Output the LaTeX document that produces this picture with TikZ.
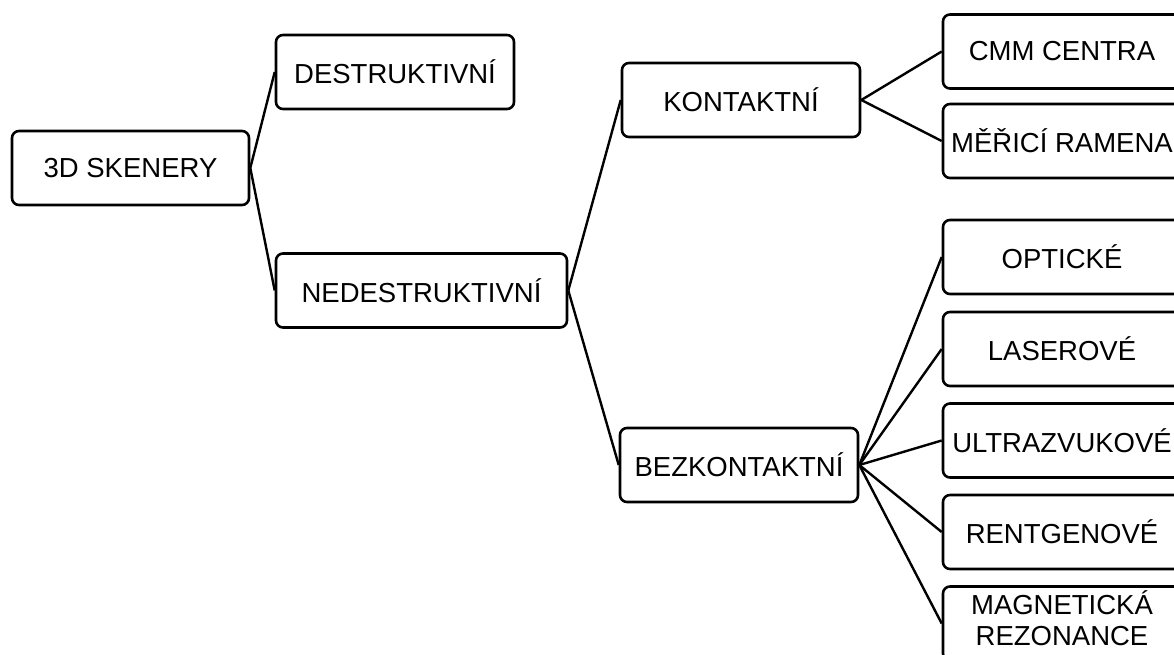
\documentclass[tikz,border=0pt]{standalone}
\usepackage{fontspec}
\setmainfont{Liberation Sans}
\begin{document}
\begin{tikzpicture}[x=1pt,y=-1pt,
  box/.style={draw=black, line width=2.6pt, rounded corners=7pt, fill=white,
    minimum width=238pt, minimum height=74pt, inner sep=0pt, align=center,
    font=\fontsize{27.5}{33}\selectfont},
  link/.style={draw=black, line width=2.4pt}]
\useasboundingbox (0,0) rectangle (1174,654);
\clip (0,0) rectangle (1174,654);
\node[box, minimum width=237pt] (root) at (130.5,168) {3D SKENERY};
\node[box] (destr) at (395,72) {DESTRUKTIVNÍ};
\node[box, minimum width=291pt] (nedestr) at (421.5,290.5) {NEDESTRUKTIVNÍ};
\node[box] (kont) at (741,100) {KONTAKTNÍ};
\node[box] (bezk) at (739,465) {BEZKONTAKTNÍ};
\node[box] (cmm) at (1062,51.5) {CMM CENTRA};
\node[box] (mer) at (1062,141) {MĚŘICÍ RAMENA};
\node[box] (opt) at (1062,257) {OPTICKÉ};
\node[box] (las) at (1062,349) {LASEROVÉ};
\node[box] (ult) at (1062,440.5) {ULTRAZVUKOVÉ};
\node[box] (ren) at (1062,532) {RENTGENOVÉ};
\node[box] (mag) at (1062,623.5) {\raisebox{5pt}{\begin{tabular}{@{}c@{}}MAGNETICKÁ\\[-2pt]REZONANCE\end{tabular}}};
\draw[link] (root.east) -- (destr.west);
\draw[link] (root.east) -- (nedestr.west);
\draw[link] (nedestr.east) -- (kont.west);
\draw[link] (nedestr.east) -- (bezk.west);
\draw[link] (kont.east) -- (cmm.west);
\draw[link] (kont.east) -- (mer.west);
\draw[link] (bezk.east) -- (opt.west);
\draw[link] (bezk.east) -- (las.west);
\draw[link] (bezk.east) -- (ult.west);
\draw[link] (bezk.east) -- (ren.west);
\draw[link] (bezk.east) -- (mag.west);
\end{tikzpicture}
\end{document}
